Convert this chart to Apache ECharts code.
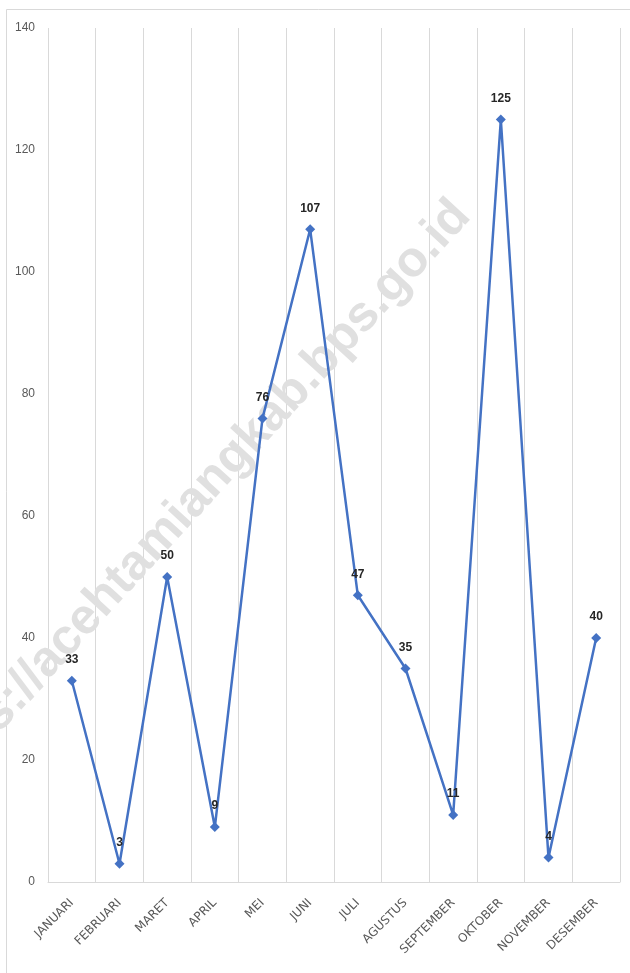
<!DOCTYPE html>
<html>
<head>
<meta charset="utf-8">
<script src="https://cdn.jsdelivr.net/npm/echarts@6/dist/echarts.min.js"></script>
<style>
html,body{margin:0;padding:0;background:#fff;}
#chart{width:630px;height:973px;}
</style>
</head>
<body>
<div id="chart"></div>
<script>
const categories = ['JANUARI','FEBRUARI','MARET','APRIL','MEI','JUNI','JULI','AGUSTUS','SEPTEMBER','OKTOBER','NOVEMBER','DESEMBER'];
const values = [33, 3, 50, 9, 76, 107, 47, 35, 11, 125, 4, 40];
const yTicks = {min: 0, max: 140, interval: 20};
const watermark = 'https://acehtamiangkab.bps.go.id';

const chart = echarts.init(document.getElementById('chart'), null, {renderer: 'canvas'});
chart.setOption({
  animation: false,
  backgroundColor: '#ffffff',
  grid: {left: 48, right: 10, top: 28, bottom: 91, containLabel: false},
  graphic: [
    {type: 'rect', z: 0, silent: true,
     shape: {x: 6.5, y: 9.5, width: 800, height: 1200},
     style: {fill: 'none', stroke: '#d9d9d9', lineWidth: 1}},
    {type: 'text', z: 1, silent: true,
     x: 462, y: 208, rotation: 47.5 * Math.PI / 180,
     style: {text: watermark, fill: '#e0e0e0', font: 'bold 50px "Liberation Sans", sans-serif',
             textAlign: 'right', textVerticalAlign: 'middle'}}
  ],
  xAxis: {
    type: 'category',
    data: categories,
    boundaryGap: true,
    axisLine: {show: true, lineStyle: {color: '#d9d9d9', width: 1}},
    axisTick: {show: false},
    splitLine: {show: true, lineStyle: {color: '#d9d9d9', width: 1}},
    axisLabel: {rotate: 45, interval: 0, margin: 19, color: '#595959',
                fontSize: 12, fontFamily: '"DejaVu Sans", sans-serif'}
  },
  yAxis: {
    type: 'value',
    min: yTicks.min, max: yTicks.max, interval: yTicks.interval,
    axisLine: {show: false},
    axisTick: {show: false},
    splitLine: {show: false},
    axisLabel: {margin: 13, color: '#595959', fontSize: 12, fontFamily: '"Liberation Sans", sans-serif'}
  },
  series: [{
    type: 'line',
    data: values,
    z: 5,
    symbol: 'diamond',
    symbolSize: 10,
    lineStyle: {color: '#4472C4', width: 2.5},
    itemStyle: {color: '#4472C4'},
    label: {show: true, position: 'top', distance: 10, color: '#262626',
            fontSize: 12, fontWeight: 'bold', fontFamily: '"Liberation Sans", sans-serif'}
  }]
});
</script>
</body>
</html>
